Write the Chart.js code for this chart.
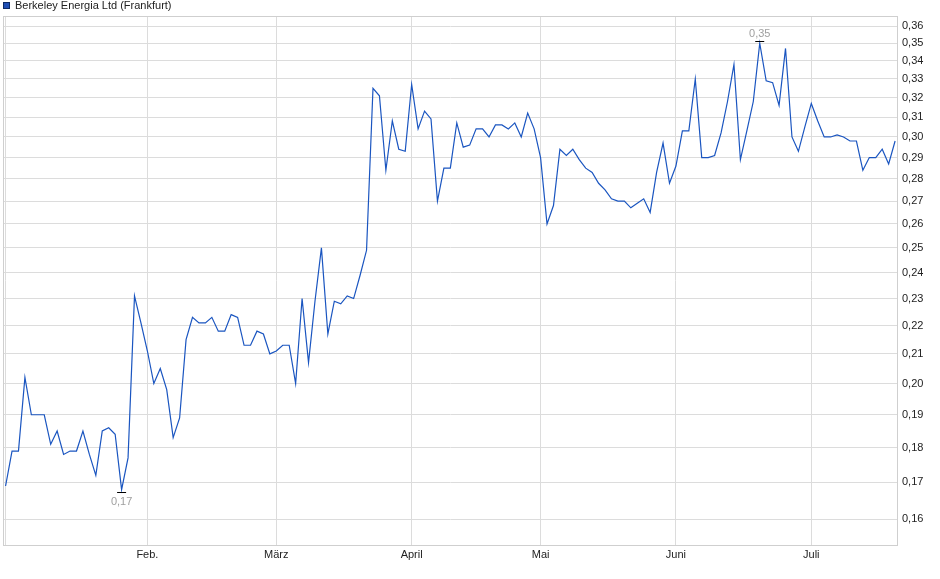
<!DOCTYPE html>
<html>
<head>
<meta charset="utf-8">
<script src="https://cdn.jsdelivr.net/npm/chart.js@4.4.1/dist/chart.umd.min.js"></script>
<style>
  html, body { margin: 0; padding: 0; background: #fff; }
  #wrap { width: 940px; height: 579px; position: relative; }
</style>
</head>
<body>
<div id="wrap"><canvas id="chart"></canvas></div>
<script>
  const seriesName = "Berkeley Energia Ltd (Frankfurt)";

  // closing prices, one per trading day (Jan - Jul)
  const prices = [
    0.169, 0.179, 0.179, 0.202, 0.190, 0.190, 0.190, 0.181, 0.185, 0.178,
    0.179, 0.179, 0.185, 0.178, 0.172, 0.185, 0.186, 0.184, 0.168, 0.177,
    0.231, 0.221, 0.211, 0.200, 0.205, 0.198, 0.183, 0.189, 0.215, 0.223,
    0.221, 0.221, 0.223, 0.218, 0.218, 0.224, 0.223, 0.213, 0.213, 0.218,
    0.217, 0.210, 0.211, 0.213, 0.213, 0.200, 0.230, 0.207, 0.229, 0.250,
    0.217, 0.229, 0.228, 0.231, 0.230, 0.239, 0.249, 0.325, 0.321, 0.284,
    0.308, 0.294, 0.293, 0.327, 0.304, 0.313, 0.309, 0.270, 0.285, 0.285,
    0.307, 0.295, 0.296, 0.304, 0.304, 0.300, 0.306, 0.306, 0.304, 0.307,
    0.300, 0.312, 0.304, 0.290, 0.260, 0.268, 0.294, 0.291, 0.294, 0.289,
    0.285, 0.283, 0.278, 0.275, 0.271, 0.270, 0.270, 0.267, 0.269, 0.271,
    0.265, 0.283, 0.297, 0.278, 0.286, 0.303, 0.303, 0.330, 0.290, 0.290,
    0.291, 0.302, 0.318, 0.338, 0.289, 0.303, 0.318, 0.350, 0.329, 0.328,
    0.316, 0.347, 0.300, 0.293, 0.305, 0.317, 0.308, 0.300, 0.300, 0.301,
    0.300, 0.298, 0.298, 0.284, 0.290, 0.290, 0.294, 0.287, 0.298
  ];

  // index of the first trading day of each month
  const monthStarts = [22, 42, 63, 83, 104, 125];
  const monthNames = ["Feb.", "März", "April", "Mai", "Juni", "Juli"];

  const yTicks = [0.16, 0.17, 0.18, 0.19, 0.20, 0.21, 0.22, 0.23, 0.24, 0.25, 0.26,
                  0.27, 0.28, 0.29, 0.30, 0.31, 0.32, 0.33, 0.34, 0.35, 0.36];

  const lineColor = "#1a55c0";
  const gridColor = "#dcdcdc";
  const fontFamily = "'Liberation Sans', Arial, sans-serif";

  const fmt = (v) => v.toFixed(2).replace(".", ",");

  // frame, legend and min/max markers
  const extras = {
    id: "extras",
    afterDraw(chart) {
      const { ctx, chartArea: a, scales } = chart;
      ctx.save();
      ctx.strokeStyle = "#cfcfcf";
      ctx.lineWidth = 1;
      ctx.strokeRect(Math.round(a.left) + 0.5, Math.round(a.top) + 0.5,
        Math.round(a.right - a.left) - 1, Math.round(a.bottom - a.top));

      // legend
      ctx.fillStyle = "#1f4fb5";
      ctx.fillRect(3, 2, 7, 7);
      ctx.strokeStyle = "#0c2a66";
      ctx.strokeRect(3.5, 2.5, 6, 6);
      ctx.fillStyle = "#222";
      ctx.font = "11px " + fontFamily;
      ctx.textBaseline = "middle";
      ctx.textAlign = "left";
      ctx.fillText(seriesName, 15, 6);

      // min / max
      let iMin = 0, iMax = 0;
      prices.forEach((v, i) => {
        if (v < prices[iMin]) iMin = i;
        if (v > prices[iMax]) iMax = i;
      });
      const mark = (i, dir, off) => {
        const x = scales.x.getPixelForValue(i);
        const y = scales.y.getPixelForValue(prices[i]);
        const ly = Math.round(y + dir * 2) + 0.5;
        ctx.strokeStyle = "#000";
        ctx.beginPath();
        ctx.moveTo(x - 4.5, ly);
        ctx.lineTo(x + 4.5, ly);
        ctx.stroke();
        ctx.fillStyle = "#a0a0a0";
        ctx.textAlign = "center";
        ctx.fillText(fmt(prices[i]), x, y + dir * off);
      };
      mark(iMin, 1, 12);
      mark(iMax, -1, 9);
      ctx.restore();
    }
  };

  new Chart(document.getElementById("chart"), {
    type: "line",
    data: {
      datasets: [{
        data: prices.map((v, i) => ({ x: i, y: v })),
        borderColor: lineColor,
        borderWidth: 1.2,
        pointRadius: 0,
        tension: 0,
        fill: false
      }]
    },
    options: {
      responsive: true,
      maintainAspectRatio: false,
      animation: false,
      layout: { padding: { top: 16, left: 3, right: 0, bottom: 0 } },
      plugins: { legend: { display: false }, tooltip: { enabled: false } },
      scales: {
        x: {
          type: "linear",
          min: -0.4,
          max: 138.45,
          afterBuildTicks: (scale) => {
            scale.ticks = [0].concat(monthStarts).map((v) => ({ value: v }));
          },
          afterFit: (scale) => { scale.height = 34; },
          grid: { color: gridColor, drawTicks: false },
          border: { display: false },
          ticks: {
            autoSkip: false,
            maxRotation: 0,
            padding: 3,
            color: "#222",
            font: { family: fontFamily, size: 11 },
            callback: (v) => {
              const k = monthStarts.indexOf(v);
              return k < 0 ? "" : monthNames[k];
            }
          }
        },
        y: {
          type: "logarithmic",
          position: "right",
          min: 0.15338,
          max: 0.366,
          bounds: "data",
          afterBuildTicks: (scale) => {
            scale.ticks = yTicks.map((v) => ({ value: v }));
          },
          afterFit: (scale) => { scale.width = 42; },
          grid: { color: gridColor, drawTicks: false },
          border: { display: false },
          ticks: {
            autoSkip: false,
            padding: 4,
            color: "#222",
            font: { family: fontFamily, size: 11 },
            callback: (v) => fmt(v)
          }
        }
      }
    },
    plugins: [extras]
  });
</script>
</body>
</html>
